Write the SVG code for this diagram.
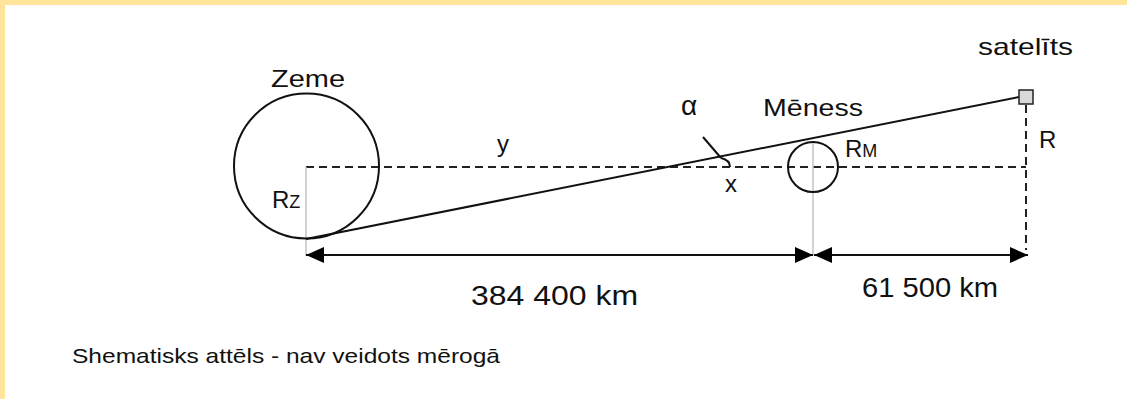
<svg xmlns="http://www.w3.org/2000/svg" width="1127" height="399" viewBox="0 0 1127 399">
<style>
text{font-family:"Liberation Sans",Arial,sans-serif;fill:#111}
.lbl{font-size:24px}
.dim{font-size:27px}
.body{fill:none;stroke:#111;stroke-width:2}
.dash{fill:none;stroke:#222;stroke-width:2;stroke-dasharray:8 5}
.grey{fill:none;stroke:#c4c4c4;stroke-width:1.5}
.line{fill:none;stroke:#111;stroke-width:2}
</style>
<defs>
<marker id="arr" markerUnits="userSpaceOnUse" markerWidth="18" markerHeight="16" refX="18" refY="8" orient="auto-start-reverse" viewBox="0 0 18 16">
<path d="M0,0 L18,8 L0,16 z" fill="#000"/>
</marker>
</defs>
<rect x="0" y="0" width="1127" height="399" fill="#fff"/>
<rect x="0" y="0" width="1127" height="5" fill="#ffe599"/>
<rect x="0" y="0" width="5" height="399" fill="#ffe599"/>

<g id="connectors">
<line class="dash" x1="306" y1="167" x2="1026" y2="167"/>
<line class="dash" x1="1026" y1="105" x2="1026" y2="250"/>
<line class="grey" x1="306" y1="167" x2="306" y2="256"/>
<line class="grey" x1="813" y1="142" x2="813" y2="256"/>
<line class="line" x1="306" y1="239" x2="1019" y2="97"/>
<line class="line" x1="306" y1="255" x2="813" y2="255" marker-start="url(#arr)" marker-end="url(#arr)"/>
<line class="line" x1="814" y1="255" x2="1028" y2="255" marker-start="url(#arr)" marker-end="url(#arr)"/>
<line class="line" x1="703" y1="137" x2="721" y2="158"/>
<path class="line" d="M721,158 Q730,160 730,167" stroke-width="1.5"/>
</g>

<g id="earth">
<circle class="body" cx="306.5" cy="166" r="72.5"/>
<text class="lbl" x="271" y="87" textLength="74" lengthAdjust="spacingAndGlyphs">Zeme</text>
<text class="lbl" x="272" y="208">R<tspan font-size="18">Z</tspan></text>
</g>

<g id="moon">
<circle class="body" cx="813" cy="167" r="25"/>
<text class="lbl" x="763" y="116" textLength="100" lengthAdjust="spacingAndGlyphs">Mēness</text>
<text class="lbl" x="845" y="157">R<tspan font-size="18">M</tspan></text>
</g>

<g id="satellite">
<rect x="1019" y="90" width="14" height="14" fill="#d9d9d9" stroke="#222" stroke-width="1.5"/>
<text class="lbl" x="978" y="55" textLength="95" lengthAdjust="spacingAndGlyphs">satelīts</text>
<text class="lbl" x="1039" y="148">R</text>
</g>

<g id="labels">
<text x="681" y="115" font-size="28">α</text>
<text class="lbl" x="497" y="152">y</text>
<text class="lbl" x="725" y="192">x</text>
<text class="dim" x="471" y="305" textLength="167" lengthAdjust="spacingAndGlyphs">384 400 km</text>
<text class="dim" x="862" y="297" textLength="136" lengthAdjust="spacingAndGlyphs">61 500 km</text>
<text x="72" y="363" font-size="21" textLength="428" lengthAdjust="spacingAndGlyphs">Shematisks attēls - nav veidots mērogā</text>
</g>
</svg>
